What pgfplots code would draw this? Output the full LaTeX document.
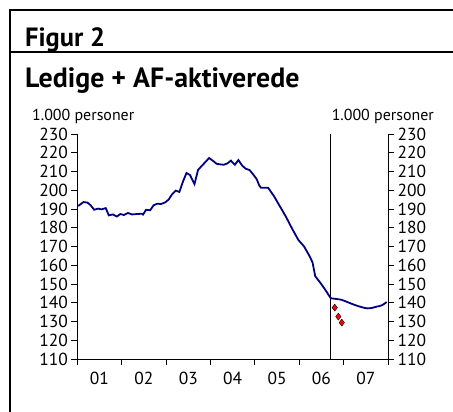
\documentclass[border=0pt]{standalone}
\usepackage{fontspec}
\setmainfont{PT Sans}
\usepackage{pgfplots}
\pgfplotsset{compat=1.18}
\definecolor{navyline}{RGB}{0,0,128}
\begin{document}
\begin{tikzpicture}
\useasboundingbox (0bp,0bp) rectangle (453bp,412bp);
\draw[line width=1.1bp] (10bp,0bp) -- (10bp,402bp) -- (453bp,402bp);
\draw[line width=1.1bp] (10bp,360bp) -- (453bp,360bp);
\node[anchor=base west, inner sep=0pt, font=\fontsize{26.5}{26.5}\selectfont\bfseries] at (25bp,365bp) {Figur 2};
\node[anchor=base west, inner sep=0pt, font=\fontsize{28}{28}\selectfont\bfseries] at (25bp,324bp) {Ledige + AF-aktiverede};
\node[anchor=base west, inner sep=0pt, font=\fontsize{16}{16}\selectfont] at (32bp,291bp) {1.000 personer};
\node[anchor=base east, inner sep=0pt, font=\fontsize{16}{16}\selectfont] at (434bp,291bp) {1.000 personer};
\coordinate (O) at (77.3bp,53bp);
\pgfplotsset{
  common/.style={
    at={(O)}, anchor=south west,
    scale only axis, width=310.7bp, height=225bp,
    xmin=2001, xmax=2008, ymin=110, ymax=230,
    ytick={110,120,...,230},
    tick align=outside, major tick length=6bp,
    axis line style={-, line width=0.8bp},
    tick style={black, line width=0.8bp},
    tick label style={font=\fontsize{17.5}{17.5}\selectfont},
    /pgf/number format/assume math mode=true,
    clip=false,
  }
}
\begin{axis}[common,
  axis x line*=bottom, axis y line*=left,
  xtick={2001,2002,...,2008}, xticklabels={},
  extra x ticks={2001.5,2002.5,2003.5,2004.5,2005.5,2006.5,2007.5},
  extra x tick labels={01,02,03,04,05,06,07},
  extra x tick style={major tick length=0pt, tick label style={yshift=-10bp}},
]
\addplot[black, line width=0.8bp] coordinates {(2006.71,110) (2006.71,230)};
\addplot[navyline, line width=1.8bp] coordinates {
(2001.02,191.6) (2001.14,193.7) (2001.23,193.4) (2001.30,192.0) (2001.38,189.6)
(2001.47,190.2) (2001.55,189.8) (2001.64,190.5) (2001.71,186.6) (2001.80,187.1)
(2001.89,186.0) (2001.97,187.3) (2002.05,186.8) (2002.14,187.9) (2002.23,187.1)
(2002.34,187.3) (2002.45,187.5) (2002.48,187.0) (2002.55,189.6) (2002.64,189.3)
(2002.72,192.0) (2002.80,192.8) (2002.89,192.7) (2002.98,193.5) (2003.06,195.1)
(2003.14,198.0) (2003.22,199.8) (2003.30,199.1) (2003.38,204.6) (2003.46,209.2)
(2003.54,208.1) (2003.64,203.3) (2003.72,210.8) (2003.80,212.9) (2003.88,214.9)
(2003.97,217.2) (2004.05,215.8) (2004.14,214.1) (2004.22,213.8) (2004.30,213.6)
(2004.38,214.3) (2004.46,215.8) (2004.55,213.6) (2004.63,216.1) (2004.71,213.3)
(2004.79,211.5) (2004.88,210.8) (2004.96,208.5) (2005.04,206.0) (2005.10,202.5)
(2005.14,201.3) (2005.30,201.3) (2005.43,196.9) (2005.57,191.2) (2005.70,185.9)
(2005.84,179.5) (2005.98,173.5) (2006.11,170.0) (2006.23,165.0) (2006.30,161.5)
(2006.36,154.2) (2006.48,150.5) (2006.59,146.8) (2006.71,142.4)
};
\addplot[navyline, line width=1.8bp, smooth] coordinates {
(2006.71,142.4) (2006.84,142.0) (2006.95,141.6) (2007.03,140.9) (2007.22,139.1)
(2007.37,137.9) (2007.53,137.0) (2007.65,137.3) (2007.74,137.9) (2007.86,138.6)
(2007.97,140.4)
};
\addplot[only marks, mark=diamond*, mark size=3.5bp,
  mark options={fill=red, draw=black, line width=0.4bp}] coordinates {
(2006.80,137.4) (2006.88,132.6) (2006.96,129.4)
};
\end{axis}
\begin{axis}[common,
  axis y line*=right, axis x line=none,
  xtick=\empty,
]
\end{axis}
\end{tikzpicture}
\end{document}
